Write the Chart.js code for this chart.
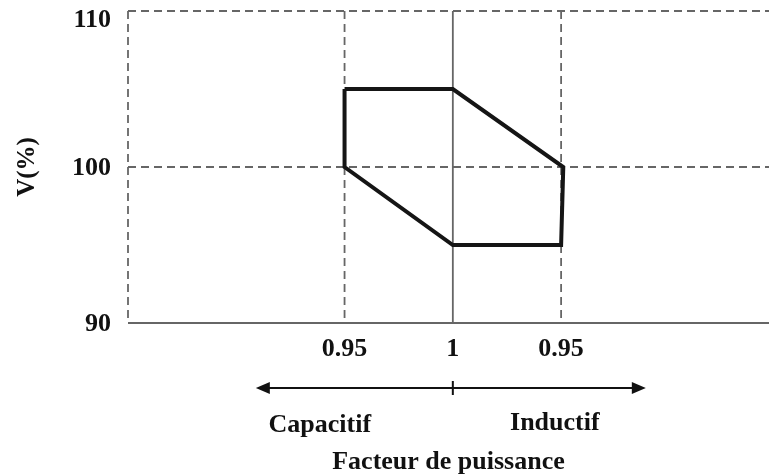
<!DOCTYPE html>
<html>
<head>
<meta charset="utf-8">
<script src="https://cdn.jsdelivr.net/npm/chart.js@4.4.1/dist/chart.umd.min.js"></script>
<style>
  html, body { margin: 0; padding: 0; background: #fff; }
  #wrap { width: 769px; height: 474px; position: relative; }
</style>
</head>
<body>
<div id="wrap"><canvas id="chart"></canvas></div>
<script>
const yTicks = [90, 100, 110];
const yDashed = [100, 110];
const pfPositions = [-0.05, 0, 0.05];
const pfLabels = ["0.95", "1", "0.95"];
const pfDashed = [-0.05, 0.05];
const pfSolid = [0];
const capX = [-0.05, 0, 0.051, 0.05, 0, -0.05, -0.05];
const capV = [105, 105, 100, 95, 95, 100, 105];
const sideLabels = ["Capacitif", "Inductif"];

const FONT = "'Liberation Serif', 'Times New Roman', serif";
const GRID = "#666";

const guides = {
  id: "guides",
  beforeDatasetsDraw(chart) {
    const { ctx, chartArea: a, scales: { x, y } } = chart;
    ctx.save();
    ctx.strokeStyle = GRID;
    ctx.lineWidth = 1.8;
    ctx.setLineDash([8, 5]);
    ctx.beginPath();
    pfDashed.forEach((v) => {
      const px = x.getPixelForValue(v);
      ctx.moveTo(px, a.top); ctx.lineTo(px, a.bottom);
    });
    yDashed.forEach((v) => {
      const py = y.getPixelForValue(v);
      ctx.moveTo(a.left, py); ctx.lineTo(a.right, py);
    });
    ctx.moveTo(a.left, a.top); ctx.lineTo(a.left, a.bottom);
    ctx.stroke();
    ctx.setLineDash([]);
    ctx.beginPath();
    pfSolid.forEach((v) => {
      const px = x.getPixelForValue(v);
      ctx.moveTo(px, a.top); ctx.lineTo(px, a.bottom);
    });
    ctx.moveTo(a.left, a.bottom); ctx.lineTo(a.right, a.bottom);
    ctx.stroke();
    ctx.restore();
  },
  afterDraw(chart) {
    const { ctx, chartArea: a, scales: { x, y } } = chart;
    ctx.save();
    ctx.fillStyle = "#111";
    ctx.font = `bold 26px ${FONT}`;
    ctx.textAlign = "right";
    ctx.textBaseline = "middle";
    // y tick labels, the top one sits a bit lower than its line
    yTicks.forEach((v) => {
      const py = Math.max(y.getPixelForValue(v), a.top + 8);
      ctx.fillText(String(v), a.left - 17, py + 1);
    });

    const cx = x.getPixelForValue(0);
    const ay = a.bottom + 65;
    const left = cx - 197, right = cx + 193;
    ctx.strokeStyle = "#111";
    ctx.lineWidth = 2;
    ctx.beginPath();
    ctx.moveTo(left + 10, ay); ctx.lineTo(right - 10, ay);
    ctx.moveTo(cx, ay - 7); ctx.lineTo(cx, ay + 7);
    ctx.stroke();
    ctx.beginPath();
    ctx.moveTo(left, ay); ctx.lineTo(left + 14, ay - 6); ctx.lineTo(left + 14, ay + 6); ctx.closePath();
    ctx.moveTo(right, ay); ctx.lineTo(right - 14, ay - 6); ctx.lineTo(right - 14, ay + 6); ctx.closePath();
    ctx.fill();
    ctx.textAlign = "center";
    ctx.fillText(sideLabels[0], cx - 133, a.bottom + 102);
    ctx.fillText(sideLabels[1], cx + 102, a.bottom + 100);
    ctx.restore();
  },
};

new Chart(document.getElementById("chart"), {
  type: "scatter",
  data: {
    datasets: [{
      data: capX.map((v, i) => ({ x: v, y: capV[i] })),
      showLine: true,
      borderColor: "#151515",
      borderWidth: 4,
      pointRadius: 0,
      borderJoinStyle: "miter",
      tension: 0,
    }],
  },
  options: {
    responsive: true,
    maintainAspectRatio: false,
    animation: false,
    layout: { padding: { top: 11, right: 0, left: 0, bottom: 0 } },
    plugins: { legend: { display: false }, tooltip: { enabled: false } },
    scales: {
      x: {
        type: "linear",
        min: -0.15,
        max: 0.146,
        afterBuildTicks: (scale) => { scale.ticks = pfPositions.map((v) => ({ value: v })); },
        afterFit: (scale) => {
          scale.height = 151;
          scale.paddingLeft = 0;
          scale.paddingRight = 0;
        },
        grid: { display: false },
        border: { display: false },
        ticks: {
          padding: 3,
          color: "#111",
          font: { family: FONT, size: 26, weight: "bold" },
          callback: (v) => pfLabels[pfPositions.indexOf(v)],
        },
        title: {
          display: true,
          text: "Facteur de puissance",
          color: "#111",
          font: { family: FONT, size: 26, weight: "bold" },
          padding: { top: 0, bottom: -4 },
        },
      },
      y: {
        min: 90,
        max: 110,
        afterBuildTicks: (scale) => { scale.ticks = yTicks.map((v) => ({ value: v })); },
        afterFit: (scale) => {
          scale.width = 128;
          scale.paddingTop = 0;
          scale.paddingBottom = 0;
        },
        grid: { display: false },
        border: { display: false },
        ticks: { display: false },
        title: {
          display: true,
          text: "V(%)",
          color: "#111",
          font: { family: FONT, size: 25, weight: "bold" },
          padding: { top: 13, bottom: 0 },
        },
      },
    },
  },
  plugins: [guides],
});
</script>
</body>
</html>
